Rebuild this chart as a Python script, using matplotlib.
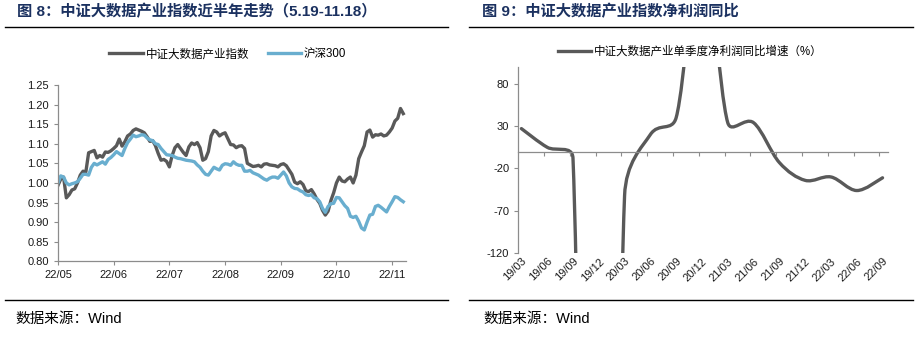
import numpy as np
import matplotlib
matplotlib.use('Agg')
import matplotlib.pyplot as plt
from matplotlib.lines import Line2D
from matplotlib.path import Path
from matplotlib.patches import PathPatch

plt.rcParams['font.family'] = ['Liberation Sans', 'Noto Sans CJK SC', 'DejaVu Sans']

# ---- figure 8: index vs HS300, 5.19-11.18 (normalised, daily) ----
bigdata_index = [
    0.994, 1.010, 1.015, 0.962, 0.970, 0.982, 0.985, 1.000, 1.020, 1.030,
    1.028, 1.077, 1.080, 1.083, 1.064, 1.070, 1.066, 1.079, 1.078, 1.082,
    1.088, 1.095, 1.112, 1.094, 1.105, 1.120, 1.125, 1.134, 1.138, 1.135,
    1.132, 1.128, 1.118, 1.106, 1.108, 1.095, 1.075, 1.058, 1.060, 1.055,
    1.041, 1.070, 1.090, 1.098, 1.088, 1.078, 1.070, 1.092, 1.102, 1.098,
    1.103, 1.090, 1.058, 1.062, 1.080, 1.120, 1.134, 1.130, 1.120, 1.125,
    1.128, 1.113, 1.098, 1.097, 1.090, 1.094, 1.095, 1.088, 1.050, 1.046,
    1.042, 1.043, 1.045, 1.041, 1.048, 1.049, 1.046, 1.045, 1.044, 1.041,
    1.047, 1.049, 1.044, 1.033, 1.022, 1.002, 0.998, 1.003, 0.996, 0.980,
    0.978, 0.983, 0.972, 0.958, 0.948, 0.930, 0.918, 0.928, 0.955, 0.975,
    1.000, 1.015, 1.005, 1.003, 1.010, 1.015, 1.000, 1.020, 1.062, 1.079,
    1.095, 1.130, 1.135, 1.117, 1.123, 1.122, 1.125, 1.120, 1.122, 1.130,
    1.140, 1.158, 1.165, 1.190, 1.177,
]
hs300 = [
    1.000, 1.018, 1.015, 1.000, 0.995, 0.998, 1.000, 1.003, 1.012, 1.022,
    1.022, 1.020, 1.040, 1.050, 1.046, 1.050, 1.054, 1.048, 1.060, 1.065,
    1.072, 1.080, 1.075, 1.070, 1.088, 1.103, 1.112, 1.122, 1.118, 1.120,
    1.123, 1.122, 1.115, 1.110, 1.108, 1.100, 1.098, 1.088, 1.080, 1.072,
    1.071, 1.070, 1.066, 1.063, 1.062, 1.060, 1.058, 1.057, 1.056, 1.054,
    1.046, 1.040, 1.030, 1.022, 1.020, 1.030, 1.040, 1.036, 1.033, 1.045,
    1.049, 1.048, 1.045, 1.054, 1.048, 1.045, 1.045, 1.030, 1.030, 1.032,
    1.026, 1.023, 1.020, 1.015, 1.010, 1.007, 1.012, 1.015, 1.015, 1.012,
    1.020, 1.028, 1.018, 1.000, 0.990, 0.986, 0.985, 0.980, 0.977, 0.970,
    0.968, 0.970, 0.962, 0.960, 0.952, 0.935, 0.925, 0.940, 0.947, 0.948,
    0.963, 0.962, 0.952, 0.942, 0.935, 0.915, 0.912, 0.915, 0.902, 0.885,
    0.880, 0.900, 0.918, 0.920, 0.940, 0.943, 0.938, 0.932, 0.926, 0.940,
    0.952, 0.965, 0.963, 0.957, 0.952,
]
month_pos = [0, 20, 40, 60, 80, 100, 120]
month_labels = ['22/05', '22/06', '22/07', '22/08', '22/09', '22/10', '22/11']
y_ticks_8 = [0.80, 0.85, 0.90, 0.95, 1.00, 1.05, 1.10, 1.15, 1.20, 1.25]

# ---- figure 9: single quarter net profit yoy (%) ----
quarters = ['19/03', '19/06', '19/09', '19/12', '20/03', '20/06', '20/09', '20/12',
            '21/03', '21/06', '21/09', '21/12', '22/03', '22/06', '22/09']
profit_yoy = [27, 5, -8, -1500, -52, 20, 40, 240, 34, 34, -13, -34, -30, -46, -31]
y_ticks_9 = [-120, -70, -20, 30, 80]

GRAY = '#595959'
BLUE = '#69AECF'
AXIS = '#8c8c8c'
TITLE = '#1B3160'


def excel_smooth(ax, xs, ys):
    # bezier path like excel "smoothed line", built in screen space
    pts = ax.transData.transform(np.column_stack([xs, ys]).astype(float))
    n = len(pts)
    verts = [pts[0]]
    codes = [Path.MOVETO]
    for k in range(n - 1):
        p0 = pts[k - 1] if k > 0 else pts[k]
        p1 = pts[k]
        p2 = pts[k + 1]
        p3 = pts[k + 2] if k + 2 < n else pts[k + 1]
        d12 = np.hypot(*(p2 - p1))
        d02 = np.hypot(*(p2 - p0))
        d13 = np.hypot(*(p3 - p1))
        f1 = min(1 / 6, d12 / (2 * d02)) if d02 > 0 else 0
        f2 = min(1 / 6, d12 / (2 * d13)) if d13 > 0 else 0
        verts += [p1 + (p2 - p0) * f1, p2 - (p3 - p1) * f2, p2]
        codes += [Path.CURVE4] * 3
    verts = ax.transData.inverted().transform(np.array(verts))
    return Path(verts, codes)


fig = plt.figure(figsize=(9.22, 3.45), dpi=100)
W, H = 922.0, 345.0

# titles, rules and source notes
fig.text(16.5 / W, 1 - 12 / H, '图 8：中证大数据产业指数近半年走势（5.19-11.18）',
         fontsize=11, fontweight='bold', color=TITLE, va='center', ha='left')
fig.text(481.5 / W, 1 - 12 / H, '图 9：中证大数据产业指数净利润同比',
         fontsize=11, fontweight='bold', color=TITLE, va='center', ha='left')
for x0, x1 in [(5, 448), (469, 913)]:
    for yy in (27, 299.5):
        fig.add_artist(Line2D([x0 / W, x1 / W], [1 - yy / H] * 2, color='black', lw=1))
fig.text(15 / W, 1 - 319 / H, '数据来源：Wind', fontsize=10.5, va='center', ha='left')
fig.text(483 / W, 1 - 319 / H, '数据来源：Wind', fontsize=10.5, va='center', ha='left')

# ---- left chart ----
ax1 = fig.add_axes([58 / W, 1 - 261.3 / H, 347.5 / W, 176.3 / H])
x = np.arange(len(bigdata_index))
ax1.plot(x, bigdata_index, color=GRAY, lw=2.4, label='中证大数据产业指数')
ax1.plot(x, hs300, color=BLUE, lw=2.4, label='沪深300')
ax1.set_xlim(0, 124.8)
ax1.set_ylim(0.80, 1.25)
ax1.set_yticks(y_ticks_8, ['%.2f' % v for v in y_ticks_8])
ax1.set_xticks(month_pos, month_labels)
for s in ['top', 'right']:
    ax1.spines[s].set_visible(False)
for s in ['left', 'bottom']:
    ax1.spines[s].set_color(AXIS)
    ax1.spines[s].set_linewidth(0.9)
ax1.tick_params(axis='both', colors=AXIS, labelcolor='#1a1a1a', labelsize=8,
                length=3, width=0.8, direction='out')
ax1.tick_params(axis='x', pad=3)
ax1.legend(loc='center', bbox_to_anchor=(0.489, 1.174), ncol=2, frameon=False,
           fontsize=8.3, handlelength=2.9, handletextpad=0.25, columnspacing=1.6,
           borderpad=0)

# ---- right chart ----
ax2 = fig.add_axes([518.3 / W, 1 - 253.3 / H, 369.4 / W, 186.6 / H])
ax2.set_xlim(-0.12, 14.2)
ax2.set_ylim(-120, 100)
ax2.set_yticks(y_ticks_9, [str(v) for v in y_ticks_9])
ax2.add_patch(PathPatch(excel_smooth(ax2, np.arange(len(profit_yoy)), profit_yoy),
                        fill=False, edgecolor=GRAY, lw=2.4, capstyle='round'))
for s in ['top', 'right']:
    ax2.spines[s].set_visible(False)
ax2.spines['left'].set_color(AXIS)
ax2.spines['left'].set_linewidth(0.9)
ax2.spines['bottom'].set_position(('data', 0))
ax2.spines['bottom'].set_color(AXIS)
ax2.spines['bottom'].set_linewidth(0.9)
ax2.set_xticks(np.arange(14) + 0.88, [''] * 14)
ax2.tick_params(axis='both', colors=AXIS, labelcolor='#1a1a1a', labelsize=8,
                length=3, width=0.8, direction='out')
sec = ax2.secondary_xaxis('bottom')
sec.set_xticks(np.arange(len(quarters)), quarters)
for lab in sec.get_xticklabels():
    lab.set_rotation(45)
    lab.set_ha('right')
    lab.set_rotation_mode('anchor')
sec.tick_params(length=0, pad=2, labelsize=8, labelcolor='#1a1a1a')
sec.spines['bottom'].set_visible(False)
ax2.legend([Line2D([], [], color=GRAY, lw=2.4)], ['中证大数据产业单季度净利润同比增速（%）'],
           loc='center', bbox_to_anchor=(0.465, 1.08), frameon=False, fontsize=8.3,
           handlelength=2.9, handletextpad=0.25, borderpad=0)

fig.savefig('out.png', dpi=100)
